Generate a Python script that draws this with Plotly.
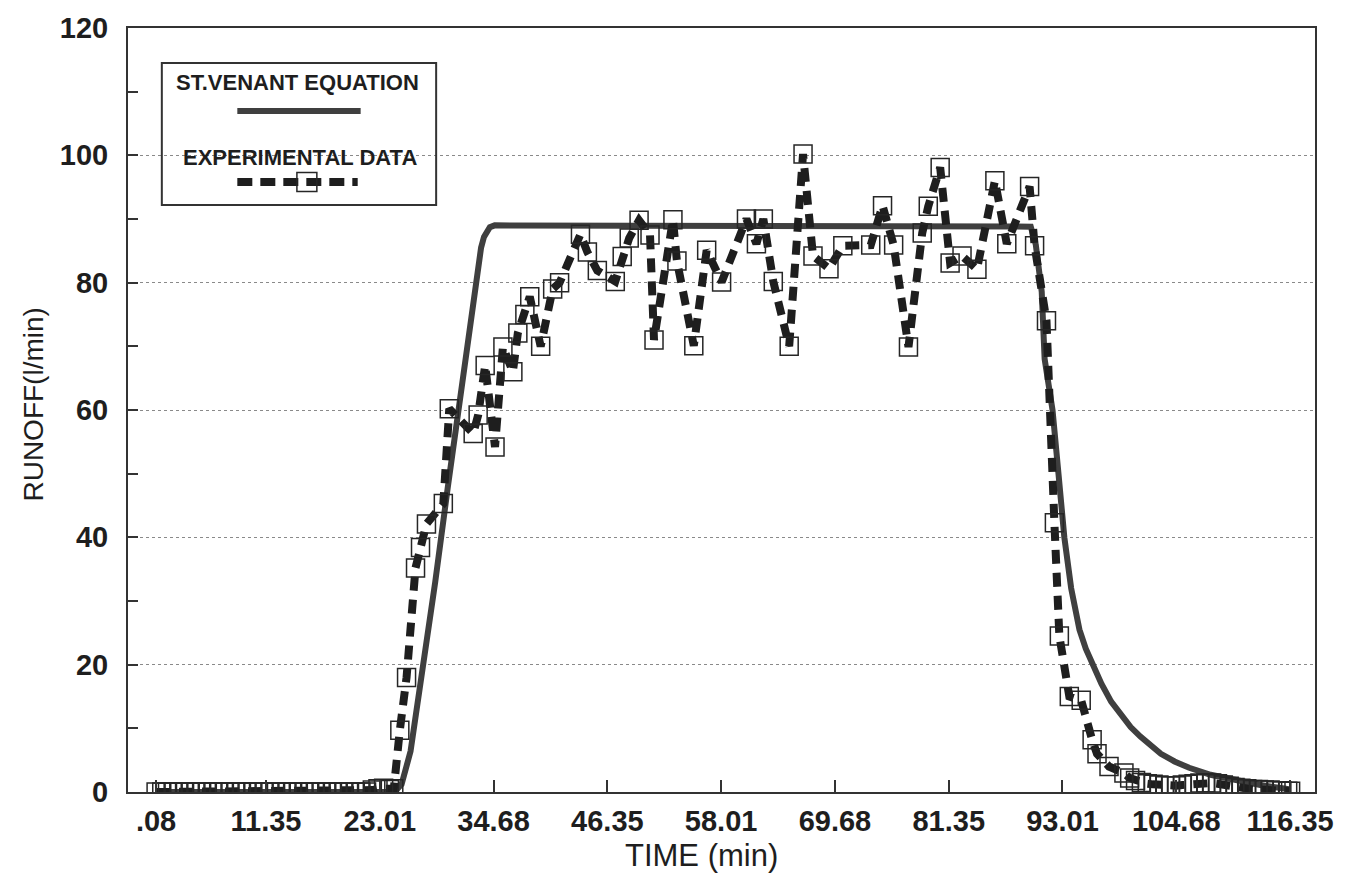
import plotly.graph_objects as go

# Time axis labels (min)
tick_vals = [0.08, 11.35, 23.01, 34.68, 46.35, 58.01, 69.68, 81.35, 93.01, 104.68, 116.35]
tick_text = [".08", "11.35", "23.01", "34.68", "46.35", "58.01", "69.68", "81.35", "93.01", "104.68", "116.35"]

# St. Venant equation solution: runoff (l/min) vs time (min)
venant_time = [0.08, 24.2, 24.7, 25.25, 26.17, 27.2, 28.7, 30.0, 31.1, 32.1, 32.8, 33.4, 33.7, 34.0,
               34.3, 34.8, 60.0, 89.76, 90.27, 90.88, 91.18, 91.99, 92.6, 93.2, 93.9, 94.75, 95.4,
               95.97, 97.0, 98.0, 99.0, 100.0, 101.0, 102.0, 103.1, 104.5, 106.0, 108.2, 110.5,
               113.3, 115.9, 116.35]
venant_runoff = [0.0, 0.0, 0.3, 1.2, 6.4, 17.0, 33.0, 48.0, 60.5, 71.4, 79.3, 85.5, 87.2, 88.2,
                 88.7, 89.0, 89.0, 88.8, 86.0, 78.6, 68.0, 60.0, 50.0, 40.0, 32.0, 25.5, 22.5,
                 20.5, 17.0, 14.2, 12.0, 10.2, 8.7, 7.3, 6.0, 4.8, 3.8, 2.7, 1.9,
                 1.1, 0.5, 0.4]

# Measured runoff
exp_time = [0.08, 0.66, 1.25, 1.83, 2.41, 3.00, 3.58, 4.16, 4.75, 5.33, 5.91, 6.50, 7.08, 7.66,
            8.25, 8.83, 9.41, 10.00, 10.58, 11.16, 11.75, 12.33, 12.91, 13.50, 14.08, 14.66,
            15.25, 15.83, 16.41, 17.00, 17.58, 18.16, 18.75, 19.33, 19.91, 20.50, 21.08, 21.66,
            22.25, 22.83, 23.41, 24.00, 24.45,
            25.07, 25.76, 26.68, 27.19, 27.80, 29.53, 30.14, 32.59, 33.10, 33.82, 34.83, 35.64,
            36.66, 37.17, 37.89, 38.39, 39.51, 40.74, 41.45, 43.59, 44.30, 45.32, 47.16, 47.87,
            48.59, 49.60, 50.72, 51.13, 53.07, 53.48, 55.21, 56.53, 58.06, 60.61, 61.63, 62.34,
            63.36, 64.99, 66.41, 67.43, 69.07, 70.49, 73.35, 74.56, 75.70, 77.22, 78.63, 79.25,
            80.47, 81.49, 82.71, 84.24, 86.08, 87.30, 89.64, 90.15, 91.37, 92.18, 92.69, 93.71,
            94.93, 96.05, 96.55, 97.78, 99.31,
            99.90, 100.50, 101.10, 101.70, 102.30, 102.90, 103.50, 104.10, 104.70, 105.30,
            105.90, 106.50, 107.10, 107.70, 108.30, 108.90, 109.50, 110.10, 110.70, 111.30,
            111.90, 112.50, 113.10, 113.70, 114.30, 114.90, 115.50, 116.10, 116.40]
exp_runoff = [0.0, 0.0, 0.0, 0.0, 0.0, 0.0, 0.0, 0.0, 0.0, 0.0, 0.0, 0.0, 0.0, 0.0,
              0.0, 0.0, 0.0, 0.0, 0.0, 0.0, 0.0, 0.0, 0.0, 0.0, 0.0, 0.0,
              0.0, 0.0, 0.0, 0.0, 0.0, 0.0, 0.0, 0.0, 0.0, 0.0, 0.0, 0.0,
              0.3, 0.5, 0.6, 0.4, 0.5,
              9.7, 18.0, 35.2, 38.4, 42.1, 45.3, 60.2, 56.3, 59.2, 67.0, 54.2, 69.9,
              66.0, 72.1, 75.0, 77.8, 70.0, 79.0, 80.0, 87.6, 84.8, 81.9, 80.2, 84.1,
              87.0, 89.8, 87.5, 71.0, 89.9, 83.4, 70.1, 85.1, 80.1, 90.0, 86.1, 90.0,
              80.2, 70.0, 100.2, 84.2, 82.2, 85.8, 85.9, 92.1, 85.9, 69.9, 87.8, 92.0,
              98.1, 83.1, 84.2, 82.1, 96.0, 86.1, 95.1, 85.8, 74.0, 42.3, 24.5, 15.0,
              14.4, 8.2, 6.0, 4.0, 3.0,
              2.2, 1.8, 1.5, 1.3, 1.2, 1.1, 1.0, 1.0, 1.0, 1.1,
              1.2, 1.3, 1.4, 1.4, 1.4, 1.3, 1.1, 0.9, 0.7, 0.6,
              0.5, 0.4, 0.4, 0.3, 0.3, 0.2, 0.2, 0.1, 0.1]

INK = "#1e1e1e"
FONT = "Liberation Sans, Arial, Helvetica, sans-serif"

fig = go.Figure()

fig.add_trace(go.Scatter(
    x=venant_time, y=venant_runoff, mode="lines",
    line=dict(color="#3f3f3f", width=6),
    name="ST.VENANT EQUATION", showlegend=False,
))

fig.add_trace(go.Scatter(
    x=exp_time, y=exp_runoff, mode="lines+markers",
    line=dict(color=INK, width=8, dash="14px,9px"),
    marker=dict(symbol="square-open", size=18, color="#262626", line=dict(width=1.5)),
    name="EXPERIMENTAL DATA", showlegend=False,
))

# Hand-built legend box (paper coordinates)
shapes = [
    dict(type="rect", xref="paper", yref="paper", x0=0.0285, x1=0.2596, y0=0.7683, y1=0.9542,
         line=dict(color="#333333", width=2)),
    dict(type="line", xref="paper", yref="paper", x0=0.0921, x1=0.1960, y0=0.8914, y1=0.8914,
         line=dict(color="#3f3f3f", width=6)),
    dict(type="line", xref="paper", yref="paper", x0=0.0921, x1=0.1935, y0=0.7984, y1=0.7984,
         line=dict(color=INK, width=8, dash="15px,8px")),
    dict(type="rect", xref="paper", yref="paper", x0=0.1423, x1=0.1591, y0=0.7860, y1=0.8108,
         line=dict(color="#262626", width=1.5)),
]

annotations = [
    dict(text="ST.VENANT EQUATION", xref="paper", yref="paper", x=0.1432, y=0.9293,
         showarrow=False, xanchor="center", yanchor="middle",
         font=dict(family=FONT, size=22, color=INK, weight="bold")),
    dict(text="EXPERIMENTAL DATA", xref="paper", yref="paper", x=0.1449, y=0.8305,
         showarrow=False, xanchor="center", yanchor="middle",
         font=dict(family=FONT, size=22, color=INK, weight="bold")),
    dict(text="TIME (min)", xref="paper", yref="paper", x=0.4832, y=-0.0825,
         showarrow=False, xanchor="center", yanchor="middle",
         font=dict(family=FONT, size=31, color=INK)),
    dict(text="RUNOFF(l/min)", xref="paper", yref="paper", x=-0.0796, y=0.5065,
         showarrow=False, xanchor="center", yanchor="middle", textangle=-90,
         font=dict(family=FONT, size=28, color=INK)),
]

fig.update_layout(
    width=1346, height=892, autosize=False,
    margin=dict(l=128, r=24, t=28, b=100),
    paper_bgcolor="white", plot_bgcolor="white",
    shapes=shapes, annotations=annotations,
    showlegend=False,
)

fig.update_xaxes(
    range=[-2.8, 118.9],
    tickmode="array", tickvals=tick_vals, ticktext=tick_text,
    ticks="inside", ticklen=12, tickwidth=1.5, tickcolor="#333333",
    showline=True, linecolor="#333333", linewidth=2, mirror=True,
    showgrid=False, zeroline=False,
    ticklabelstandoff=2,
    tickfont=dict(family=FONT, size=29, color=INK, weight="bold"),
)

fig.update_yaxes(
    range=[0, 120], dtick=20, tick0=0,
    ticks="inside", ticklen=10, tickwidth=1.5, tickcolor="#333333",
    minor=dict(dtick=10, ticks="inside", ticklen=10, tickwidth=1.5, tickcolor="#333333", showgrid=False),
    showline=True, linecolor="#333333", linewidth=2, mirror=True,
    showgrid=True, gridcolor="#8a8a8a", gridwidth=1, griddash="dot",
    zeroline=False,
    ticklabelstandoff=12,
    tickfont=dict(family=FONT, size=29, color=INK, weight="bold"),
)

fig.write_html("out.html")
